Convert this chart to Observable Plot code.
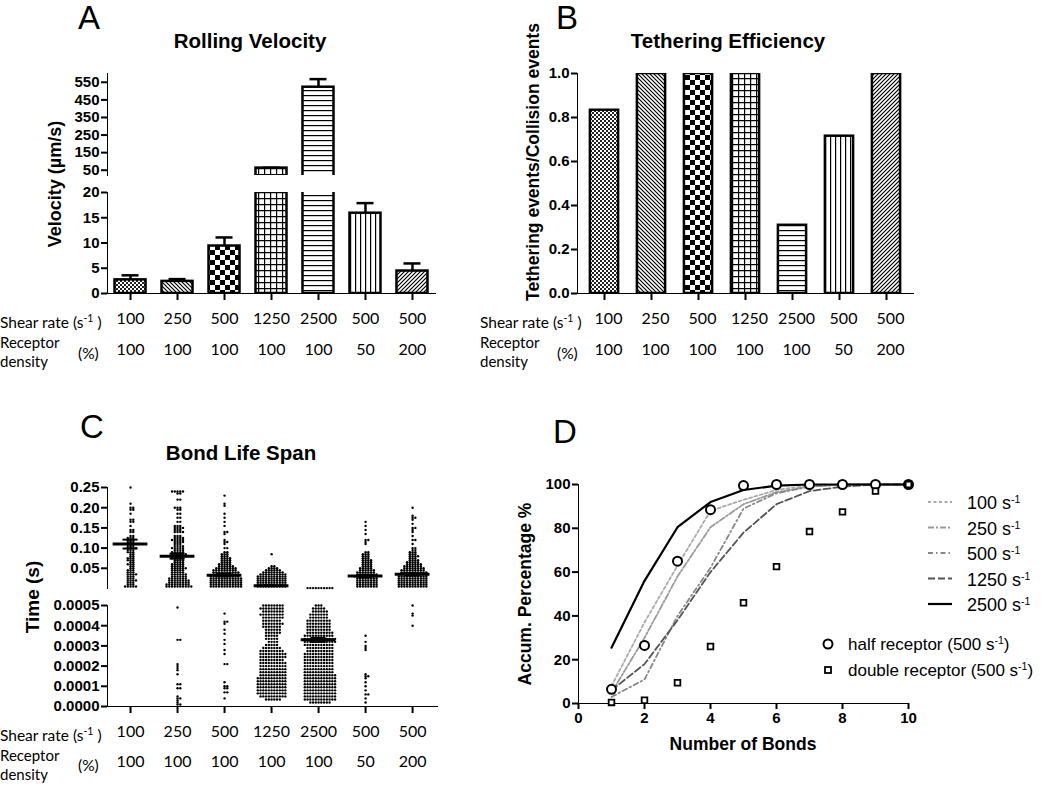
<!DOCTYPE html>
<html><head><meta charset="utf-8">
<script src="https://cdn.jsdelivr.net/npm/d3@7"></script>
<script src="https://cdn.jsdelivr.net/npm/@observablehq/plot@0.6"></script>
<style>
body{margin:0;background:#fff}
#wrap{position:relative;width:1050px;height:792px;overflow:hidden;background:#fff}
#wrap > svg{position:absolute;left:0;top:0}
#wrap svg g[aria-label*="axis"] path,#wrap svg g[aria-label*="axis"] line,#wrap svg g[aria-label*="frame"] *{stroke-width:2px}
#wrap svg g[aria-label*="axis"] text{font:bold 15px 'Liberation Sans', Arial, sans-serif !important;fill:#000}
</style></head>
<body>
<svg width="0" height="0" style="position:absolute">
<defs>
<pattern id="pFine" width="4" height="4" patternUnits="userSpaceOnUse"><rect width="4" height="4" fill="#fff"/><rect width="2" height="2" fill="#222"/><rect x="2" y="2" width="2" height="2" fill="#222"/></pattern>
<pattern id="pBack" width="4" height="4" patternUnits="userSpaceOnUse"><rect width="4" height="4" fill="#fff"/><path d="M0,0L4,4M-1,3L1,5M3,-1L5,1" stroke="#000" stroke-width="1.2"/></pattern>
<pattern id="pCheck" width="10" height="10" patternUnits="userSpaceOnUse"><rect width="10" height="10" fill="#fff"/><rect width="5" height="5" fill="#000"/><rect x="5" y="5" width="5" height="5" fill="#000"/></pattern>
<pattern id="pGrid" width="6" height="6" patternUnits="userSpaceOnUse"><rect width="6" height="6" fill="#fff"/><path d="M0,0.6H6M0.6,0V6" stroke="#000" stroke-width="1.2"/></pattern>
<pattern id="pHoriz" width="5" height="5" patternUnits="userSpaceOnUse"><rect width="5" height="5" fill="#fff"/><path d="M0,0.6H5" stroke="#000" stroke-width="1.2"/></pattern>
<pattern id="pVert" width="5" height="5" patternUnits="userSpaceOnUse"><rect width="5" height="5" fill="#fff"/><path d="M0.6,0V5" stroke="#000" stroke-width="1.2"/></pattern>
<pattern id="pFwd" width="4" height="4" patternUnits="userSpaceOnUse"><rect width="4" height="4" fill="#fff"/><path d="M0,4L4,0M-1,1L1,-1M3,5L5,3" stroke="#000" stroke-width="1.2"/></pattern>
</defs></svg>
<div id="wrap"></div>
<script>
// ---------- data ----------
const catIdx = [0, 1, 2, 3, 4, 5, 6];
const shearRates = ["100", "250", "500", "1250", "2500", "500", "500"];
const receptorDensity = ["100", "100", "100", "100", "100", "50", "200"];
const velocityMean = [2.7, 2.4, 9.4, 62, 522, 15.9, 4.45];
const velocityErr = [0.9, 0.45, 1.7, 2, 46, 2.0, 1.5];
const tetherEff = [0.833, 1, 1, 1, 0.31, 0.715, 1];
const patternIds = ["pFine", "pBack", "pCheck", "pGrid", "pHoriz", "pVert", "pFwd"];

// Bond life span: [value (s), count]
const life1Up = [[0.25,1],[0.21,1],[0.20,2],[0.195,2],[0.185,1],[0.17,2],[0.165,2],[0.155,1],[0.145,2],[0.14,2],[0.13,2],[0.125,3],[0.12,3],[0.115,3],[0.11,4],[0.105,3],[0.10,4],[0.095,3],[0.09,3],[0.085,2],[0.08,2],[0.075,3],[0.07,3],[0.065,2],[0.06,3],[0.055,2],[0.05,2],[0.045,3],[0.04,3],[0.035,4],[0.03,3],[0.025,3],[0.02,4],[0.015,3],[0.01,3],[0.005,5]];
const life1Lo = [];
const life2Up = [[0.24,5],[0.235,2],[0.22,2],[0.2,3],[0.195,2],[0.185,2],[0.175,2],[0.165,2],[0.155,3],[0.15,4],[0.145,3],[0.14,4],[0.13,3],[0.125,4],[0.12,5],[0.115,4],[0.11,3],[0.105,4],[0.1,5],[0.095,4],[0.09,5],[0.085,6],[0.08,6],[0.075,5],[0.07,4],[0.065,4],[0.06,5],[0.055,5],[0.05,6],[0.045,5],[0.04,5],[0.035,6],[0.03,6],[0.025,7],[0.02,8],[0.015,8],[0.01,9],[0.005,10]];
const life2Lo = [[0.00049,1],[0.00033,2],[0.00021,1],[0.0002,1],[0.00019,1],[0.00018,1],[0.00016,1],[0.00011,2],[0.00009,2],[0.00005,1],[0.00004,2],[0.00003,1],[0.00002,1],[0.00001,2]];
const life3Up = [[0.23,1],[0.21,1],[0.205,1],[0.185,1],[0.175,1],[0.165,1],[0.155,1],[0.14,2],[0.135,1],[0.12,1],[0.115,2],[0.11,1],[0.10,2],[0.09,2],[0.085,3],[0.08,3],[0.075,4],[0.07,4],[0.065,4],[0.06,5],[0.055,6],[0.05,8],[0.045,9],[0.04,10],[0.035,10],[0.03,11],[0.025,12],[0.02,12],[0.015,12],[0.01,12],[0.005,12]];
const life3Lo = [[0.00046,1],[0.00042,2],[0.00041,1],[0.00038,1],[0.00036,1],[0.00033,1],[0.00031,1],[0.00028,1],[0.00026,1],[0.00021,2],[0.00012,1],[0.0001,2],[0.00009,2],[0.00007,2],[0.00004,1]];
const life4Up = [[0.085,1],[0.055,2],[0.05,4],[0.045,6],[0.04,8],[0.035,10],[0.03,11],[0.025,11],[0.02,11],[0.015,11],[0.01,11],[0.005,11]];
const life4Lo = [[0.0005,8],[0.000485,9],[0.00047,8],[0.000455,9],[0.00044,8],[0.000425,7],[0.00041,8],[0.000395,7],[0.00038,6],[0.000365,6],[0.00035,5],[0.000335,5],[0.00032,4],[0.000305,5],[0.00029,7],[0.000275,9],[0.00026,10],[0.000245,10],[0.00023,9],[0.000215,10],[0.0002,10],[0.000185,10],[0.00017,10],[0.000155,10],[0.00014,11],[0.000125,11],[0.00011,11],[0.000095,11],[0.00008,11],[0.000065,11],[0.00005,10],[0.000035,6]];
const life5Up = [[0.001,10]];
const life5Lo = [[0.0005,3],[0.000485,5],[0.00047,6],[0.000455,7],[0.00044,7],[0.000425,9],[0.00041,9],[0.000395,9],[0.00038,9],[0.000365,10],[0.00035,11],[0.000335,12],[0.00032,12],[0.000305,11],[0.00029,10],[0.000275,10],[0.00026,11],[0.000245,11],[0.00023,11],[0.000215,11],[0.0002,11],[0.000185,11],[0.00017,11],[0.000155,12],[0.00014,12],[0.000125,12],[0.00011,12],[0.000095,12],[0.00008,12],[0.000065,12],[0.00005,12],[0.000035,12],[0.00002,8]];
const life6Up = [[0.165,1],[0.155,1],[0.145,1],[0.135,1],[0.12,2],[0.115,1],[0.11,1],[0.09,2],[0.085,3],[0.08,3],[0.075,3],[0.07,4],[0.065,4],[0.06,4],[0.055,4],[0.05,5],[0.045,6],[0.04,7],[0.035,8],[0.03,9],[0.025,8],[0.02,8],[0.015,8],[0.01,8],[0.005,8]];
const life6Lo = [[0.00035,1],[0.00032,1],[0.0003,1],[0.00029,1],[0.00028,1],[0.00016,1],[0.00015,2],[0.00014,1],[0.00012,1],[0.0001,1],[0.00008,1],[0.00006,2],[0.00004,1],[0.00002,1]];
const life7Up = [[0.2,1],[0.18,1],[0.175,2],[0.17,1],[0.16,1],[0.15,2],[0.145,1],[0.14,1],[0.13,1],[0.12,2],[0.11,1],[0.10,2],[0.095,2],[0.09,3],[0.085,3],[0.08,4],[0.075,3],[0.07,4],[0.065,5],[0.06,6],[0.055,7],[0.05,8],[0.045,9],[0.04,10],[0.035,10],[0.03,11],[0.025,11],[0.02,11],[0.015,11],[0.01,11],[0.005,11]];
const life7Lo = [[0.0005,1],[0.00046,1],[0.00045,1],[0.0004,1]];
const bondMean = [0.11, 0.08, 0.033, 0.007, 0.00033, 0.031, 0.035];
const bondSem = [0.011, 0.006, 0.003, 0.001, 0.00001, 0.003, 0.003];

// Accumulated percentage vs number of bonds
const bonds = [1, 2, 3, 4, 5, 6, 7, 8, 9, 10];
const acc100 = [8, 37, 63, 88, 93, 97.5, 99.5, 100, 100, 100];
const acc250 = [5, 30, 58, 80.5, 91, 96.5, 99, 100, 100, 100];
const acc500 = [3, 11, 40, 62, 89, 96, 99, 100, 100, 100];
const acc1250 = [6, 18, 38, 60, 78, 91, 97, 99, 100, 100];
const acc2500 = [25.5, 56, 80.5, 92, 97.5, 99.5, 100, 100, 100, 100];
const halfReceptor = [6.5, 26.5, 65, 88.5, 99.5, 100, 100, 100, 100, 100];
const doubleReceptor = [0.5, 1.5, 9.5, 26, 46, 62.5, 78.5, 87.5, 97, 100];
const seriesNames = ["100", "250", "500", "1250", "2500"];
const lineStroke = ["#aaaaaa", "#9a9a9a", "#888888", "#555555", "#000000"];
const lineDash = ["3,2.5", "6,2,2,2", "5,3,1.5,3", "7,3", null];
const lineWidth = [1.8, 1.8, 1.8, 1.8, 2.2];

// ---------- helpers ----------
const W = 1050, H = 792;
const wrap = document.getElementById("wrap");
const base = {width: W, height: H,
  style: {background: "transparent", fontFamily: "'Liberation Sans', Arial, sans-serif", fontSize: "15px", fontWeight: "bold", color: "#000", overflow: "visible"}};
function frame(l, t, r, b) { return {marginLeft: l, marginTop: t, marginRight: W - r, marginBottom: H - b}; }
function add(p) { wrap.appendChild(p); return p; }
const catFont = {fontFamily: "Lato, sans-serif", fontSize: 16, fontWeight: "normal"};

const rows = catIdx.map(i => ({i, shear: shearRates[i], dens: receptorDensity[i], v: velocityMean[i], e: velocityErr[i], t: tetherEff[i], pat: `url(#${patternIds[i]})`}));

function barMarks(data, yField) {
  return [Plot.barY(data, {x: "i", y: yField, fill: "pat", stroke: "#000", strokeWidth: 2.5, clip: true})];
}
function errMarks(data) {
  return [
    Plot.ruleX(data, {x: "i", y1: "v", y2: d => d.v + d.e, stroke: "#000", strokeWidth: 2.5, clip: true}),
    Plot.tickY(data, {x: "i", y: d => d.v + d.e, stroke: "#000", strokeWidth: 2.5, insetLeft: 7, insetRight: 7, clip: true})
  ];
}
function catLabels(xAcc, dy1, dy2, dx = 0) {
  return [
    Plot.text(rows, {x: xAcc, text: "shear", frameAnchor: "bottom", dy: dy1, dx, ...catFont}),
    Plot.text(rows, {x: xAcc, text: "dens", frameAnchor: "bottom", dy: dy2, dx, ...catFont})
  ];
}

// ---------- Panel A ----------
const aUpper = [20, 600];
const xA = {type: "band", domain: catIdx, paddingInner: 0.34, paddingOuter: 0.16, round: false};
const rowsAUp = rows.filter(d => d.v > aUpper[0]);
add(Plot.plot({...base, ...frame(107, 73, 435, 175),
  x: {...xA, axis: null},
  y: {domain: aUpper, ticks: [50, 150, 250, 350, 450, 550], tickSize: 6, tickPadding: 2, line: true, label: null},
  color: {type: "identity"},
  marks: [...barMarks(rowsAUp, "v"), ...errMarks(rowsAUp)]
}));
add(Plot.plot({...base, ...frame(107, 192, 435, 293),
  x: {...xA, tickFormat: () => "", tickSize: 7, line: true, label: null},
  y: {domain: [0, 20], ticks: [0, 5, 10, 15, 20], tickSize: 6, tickPadding: 2, line: true, label: null},
  color: {type: "identity"},
  marks: [...barMarks(rows, "v"), ...errMarks(rows.filter(d => d.v < 20)), ...catLabels("i", 30, 61)]
}));

// ---------- Panel B ----------
add(Plot.plot({...base, ...frame(577, 73, 913, 293),
  x: {type: "band", domain: catIdx, paddingInner: 0.4, paddingOuter: 0.2745, round: false, tickFormat: () => "", tickSize: 7, line: true, label: null},
  y: {domain: [0, 1], ticks: [0, 0.2, 0.4, 0.6, 0.8, 1], tickFormat: d3.format(".1f"), tickSize: 6, tickPadding: 2, line: true, label: null},
  color: {type: "identity"},
  marks: [...barMarks(rows, "t"), ...catLabels("i", 30, 61, 4)]
}));

// ---------- Panel C ----------
// beeswarm layout of the listed values (horizontal offsets only)
function swarm(pairs, pxPerUnit, dx0, dy0) {
  const vals = [];
  pairs.forEach(([v, c]) => { for (let k = 0; k < c; k++) vals.push(v); });
  vals.sort((a, b) => a - b);
  const placed = [];
  for (const v of vals) {
    const y = v * pxPerUnit;
    let chosen = 0;
    for (let k = 0; k < 600; k++) {
      const cand = k === 0 ? 0 : (k % 2 ? 1 : -1) * Math.ceil(k / 2) * 0.25;
      let ok = true;
      for (let j = placed.length - 1; j >= 0; j--) {
        const p = placed[j];
        const dy = y - p.y;
        if (dy >= dy0) break;
        const dx = cand - p.x;
        if ((dx * dx) / (dx0 * dx0) + (dy * dy) / (dy0 * dy0) < 1) { ok = false; break; }
      }
      if (ok) { chosen = cand; break; }
    }
    placed.push({x: chosen, y, v});
  }
  return placed;
}
const lifeUp = [life1Up, life2Up, life3Up, life4Up, life5Up, life6Up, life7Up];
const lifeLo = [life1Lo, life2Lo, life3Lo, life4Lo, life5Lo, life6Lo, life7Lo];
const upDomain = [0, 0.25], loDomain = [0, 0.0005];
const cFrameH = 101, pxPerCat = 47, dotR = 1.2;
const ptsUp = [], ptsLo = [];
catIdx.forEach(i => {
  swarm(lifeUp[i], cFrameH / (upDomain[1] - upDomain[0]), 2.75, 2.0).forEach(p => ptsUp.push({x: i + 1 + p.x / pxPerCat, y: p.v}));
  swarm(lifeLo[i], cFrameH / (loDomain[1] - loDomain[0]), 2.75, 2.0).forEach(p => ptsLo.push({x: i + 1 + p.x / pxPerCat, y: p.v}));
});
const meanRows = catIdx.map(i => ({i: i + 1, m: bondMean[i], s: bondSem[i]}));
function meanMarks(filter) {
  const data = meanRows.filter(filter);
  return [
    Plot.ruleY(data, {y: "m", x1: d => d.i - 0.37, x2: d => d.i + 0.37, stroke: "#000", strokeWidth: 3}),
    Plot.ruleX(data, {x: "i", y1: d => d.m - d.s, y2: d => d.m + d.s, stroke: "#000", strokeWidth: 2}),
    Plot.ruleY(data, {y: d => d.m + d.s, x1: d => d.i - 0.16, x2: d => d.i + 0.16, stroke: "#000", strokeWidth: 2}),
    Plot.ruleY(data, {y: d => d.m - d.s, x1: d => d.i - 0.16, x2: d => d.i + 0.16, stroke: "#000", strokeWidth: 2})
  ];
}
const xC = {domain: [0.51, 7.53]};
add(Plot.plot({...base, ...frame(107, 487, 437, 588),
  x: {...xC, axis: null},
  y: {domain: upDomain, ticks: [0.05, 0.10, 0.15, 0.20, 0.25], tickFormat: d3.format(".2f"), tickSize: 6, tickPadding: 2, line: true, label: null},
  marks: [Plot.dot(ptsUp, {x: "x", y: "y", r: dotR, fill: "#000", stroke: "none"}), ...meanMarks(d => d.m >= 0.001)]
}));
add(Plot.plot({...base, ...frame(107, 605, 437, 706),
  x: {...xC, ticks: [1, 2, 3, 4, 5, 6, 7], tickFormat: () => "", tickSize: 7, line: true, label: null},
  y: {domain: loDomain, ticks: [0, 0.0001, 0.0002, 0.0003, 0.0004, 0.0005], tickFormat: d3.format(".4f"), tickSize: 6, tickPadding: 2, line: true, label: null},
  marks: [Plot.dot(ptsLo, {x: "x", y: "y", r: dotR, fill: "#000", stroke: "none"}), ...meanMarks(d => d.m < 0.0005),
    ...catLabels(d => d.i + 1, 30, 60)]
}));

// ---------- Panel D ----------
const accSeries = [acc100, acc250, acc500, acc1250, acc2500];
add(Plot.plot({...base, ...frame(578, 484, 908, 703),
  x: {domain: [0, 10], ticks: [0, 2, 4, 6, 8, 10], tickSize: 6, tickPadding: 3, line: true, label: null},
  y: {domain: [0, 100], ticks: [0, 20, 40, 60, 80, 100], tickSize: 6, tickPadding: 2, line: true, label: null},
  marks: [
    ...accSeries.map((s, k) => Plot.line(bonds, {x: d => d, y: (d, i) => s[i], stroke: lineStroke[k], strokeDasharray: lineDash[k], strokeWidth: lineWidth[k]})),
    Plot.dot(bonds, {x: d => d, y: (d, i) => halfReceptor[i], r: 4.5, stroke: "#000", strokeWidth: 2, fill: "#fff"}),
    Plot.dot(bonds, {x: d => d, y: (d, i) => doubleReceptor[i], r: 3.2, symbol: "square", stroke: "#000", strokeWidth: 1.8, fill: "#fff"})
  ]
}));

// ---------- static text overlay ----------
const sup = (s) => `<tspan dy="-6" font-size="10.5">${s}</tspan><tspan dy="6">`;
function t(x, y, html, attrs = "") { return `<text x="${x}" y="${y}" ${attrs}>${html}</text>`; }
const catF = `font-family="Lato, sans-serif" font-size="15.5"`;
const headF = `font-family="Lato, sans-serif" font-size="15"`;
const boldF = `font-family="'Liberation Sans', Arial, sans-serif" font-weight="bold"`;
const letF = `font-family="'Liberation Sans', Arial, sans-serif" font-size="33"`;
function rowHeads(x0, b1, b2, b3, pctX, bp) {
  return t(x0, b1, `Shear rate (s${sup("-1")} )</tspan>`, catF) +
    t(x0, b2, "Receptor", headF) + t(x0, b3, "density", headF) +
    t(pctX, bp, "(%)", catF);
}
function rot(x, y, s, size) { return `<text transform="translate(${x},${y}) rotate(-90)" text-anchor="middle" dominant-baseline="central" ${boldF} font-size="${size}">${s}</text>`; }
let ov = "";
ov += t(78, 29, "A", letF) + t(556, 29, "B", letF) + t(80, 438, "C", letF) + t(553, 443, "D", letF);
ov += t(250, 48, "Rolling Velocity", `${boldF} font-size="20.5" text-anchor="middle"`);
ov += t(728, 48, "Tethering Efficiency", `${boldF} font-size="20.5" text-anchor="middle"`);
ov += t(241, 460, "Bond Life Span", `${boldF} font-size="20.5" text-anchor="middle"`);
ov += rot(55, 184, "Velocity (µm/s)", 18);
ov += rot(533, 162, "Tethering events/Collision events", 17.5);
ov += rot(32, 597, "Time (s)", 19);
ov += rot(525, 594, "Accum. Percentage %", 17.5);
ov += t(743, 750, "Number of Bonds", `${boldF} font-size="17.5" text-anchor="middle"`);
ov += rowHeads(0, 328, 348, 367, 78, 359);
ov += rowHeads(480, 328, 348, 367, 557, 359);
ov += rowHeads(0, 741, 761, 780, 78, 771);
// legend D
const legF = `font-family="'Liberation Sans', Arial, sans-serif" font-size="18"`;
seriesNames.forEach((n, k) => {
  const y = 502 + k * 25.5;
  ov += `<line x1="928" x2="952" y1="${y}" y2="${y}" stroke="${lineStroke[k]}" stroke-width="${lineWidth[k]}" ${lineDash[k] ? `stroke-dasharray="${lineDash[k]}"` : ""}/>`;
  ov += t(967, y + 7, `${n} s${sup("-1")}</tspan>`, legF);
});
ov += `<circle cx="828" cy="644" r="4.5" fill="#fff" stroke="#000" stroke-width="2"/>`;
ov += `<rect x="825" y="667" width="6" height="6" fill="#fff" stroke="#000" stroke-width="1.8"/>`;
const leg2F = `font-family="'Liberation Sans', Arial, sans-serif" font-size="17"`;
ov += t(848, 650, `half receptor (500 s${sup("-1")})</tspan>`, leg2F);
ov += t(848, 676, `double receptor (500 s${sup("-1")})</tspan>`, leg2F);
wrap.insertAdjacentHTML("beforeend", `<svg width="${W}" height="${H}" viewBox="0 0 ${W} ${H}" xmlns="http://www.w3.org/2000/svg">${ov}</svg>`);
</script>
</body></html>
